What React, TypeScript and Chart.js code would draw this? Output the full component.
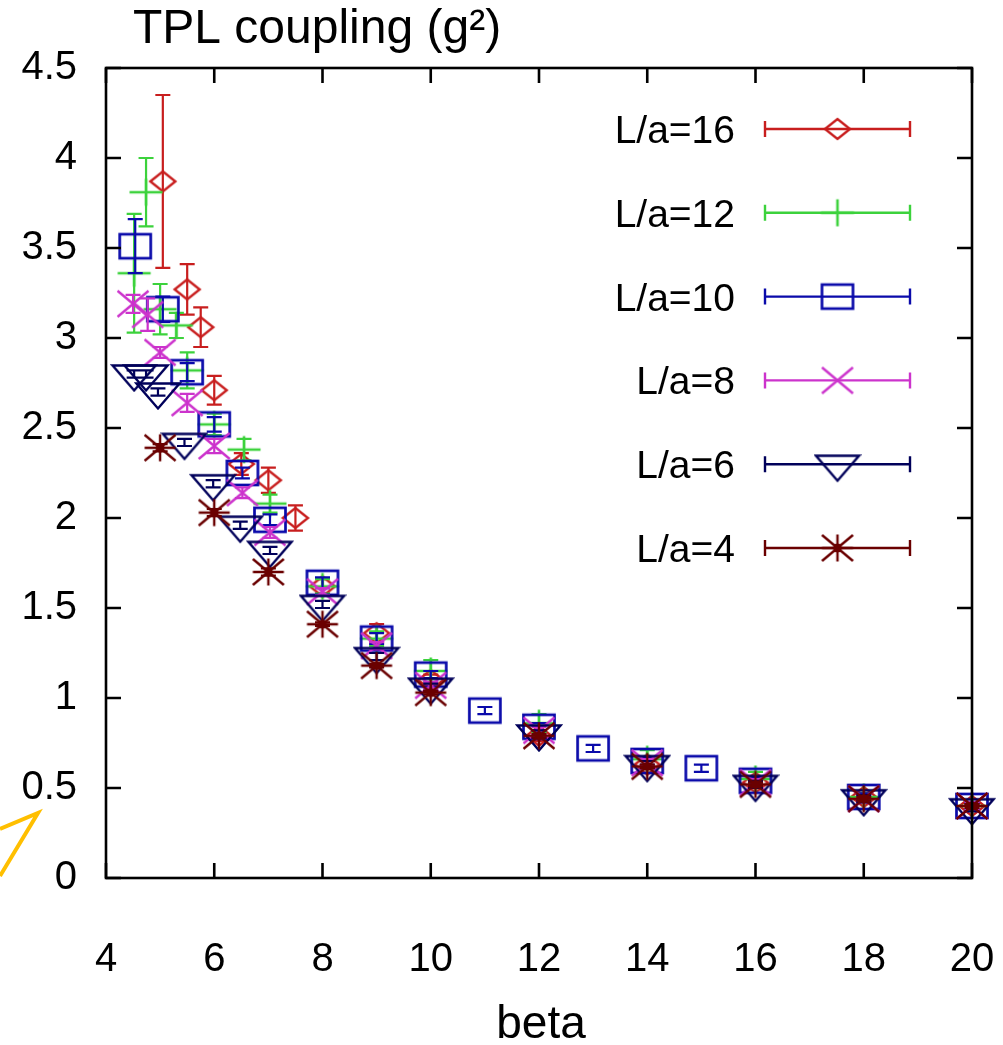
import { useEffect, useRef } from 'react';
import { Chart, registerables } from 'chart.js';

Chart.register(...registerables);

const FONT = '"Liberation Sans", Arial, Helvetica, sans-serif';

const seriesLabels = ['L/a=16', 'L/a=12', 'L/a=10', 'L/a=8', 'L/a=6', 'L/a=4'];
const seriesColors = ['#c81e1e', '#3cd23c', '#0a0aaa', '#cc33cc', '#00005a', '#6a0000'];

// L/a=16
const beta16 = [5.05, 5.5, 5.75, 6.0, 6.5, 7.0, 7.5, 8, 9, 10, 12, 14, 16, 18, 20];
const g16 = [3.87, 3.27, 3.06, 2.71, 2.3, 2.21, 2.0, 1.62, 1.36, 1.1, 0.79, 0.63, 0.53, 0.45, 0.4];
const e16 = [0.48, 0.14, 0.11, 0.08, 0.06, 0.07, 0.07, 0.04, 0.05, 0.03, 0.03, 0.02, 0.02, 0.02, 0.02];

// L/a=12
const beta12 = [4.52, 4.74, 5.0, 5.3, 5.5, 6.0, 6.55, 7.03, 8, 9, 10, 12, 14, 16, 18, 20];
const g12 = [3.36, 3.81, 3.16, 3.07, 2.82, 2.52, 2.38, 2.08, 1.62, 1.33, 1.15, 0.86, 0.66, 0.55, 0.45, 0.4];
const e12 = [0.33, 0.19, 0.14, 0.07, 0.1, 0.06, 0.06, 0.05, 0.04, 0.04, 0.06, 0.05, 0.05, 0.04, 0.02, 0.02];

// L/a=10
const beta10 = [4.54, 5.05, 5.5, 6.0, 6.52, 7.03, 8, 9, 10, 11, 12, 13, 14, 15, 16, 18, 20];
const g10 = [3.51, 3.16, 2.81, 2.52, 2.25, 1.99, 1.64, 1.33, 1.13, 0.93, 0.84, 0.72, 0.65, 0.61, 0.54, 0.45, 0.4];
const e10 = [0.15, 0.07, 0.05, 0.04, 0.03, 0.03, 0.03, 0.03, 0.02, 0.02, 0.02, 0.02, 0.02, 0.02, 0.02, 0.02, 0.02];

// L/a=8
const beta8 = [4.5, 4.77, 5.0, 5.5, 6.0, 6.52, 7.03, 8, 9, 10, 12, 14, 16, 18, 20];
const g8 = [3.19, 3.13, 2.92, 2.64, 2.4, 2.14, 1.92, 1.59, 1.29, 1.07, 0.82, 0.64, 0.53, 0.44, 0.4];
const e8 = [0.05, 0.09, 0.03, 0.05, 0.04, 0.03, 0.03, 0.02, 0.02, 0.02, 0.02, 0.02, 0.02, 0.02, 0.02];

// L/a=6
const beta6 = [4.52, 4.74, 4.96, 5.45, 5.98, 6.48, 7.03, 8, 9, 10, 12, 14, 16, 18, 20];
const g6 = [2.8, 2.8, 2.7, 2.42, 2.19, 1.96, 1.82, 1.52, 1.23, 1.06, 0.8, 0.63, 0.52, 0.44, 0.39];
const e6 = [0.02, 0.02, 0.02, 0.02, 0.02, 0.02, 0.02, 0.02, 0.02, 0.02, 0.02, 0.02, 0.02, 0.02, 0.02];

// L/a=4
const beta4 = [5.0, 6.0, 7.0, 8, 9, 10, 12, 14, 16, 18, 20];
const g4 = [2.39, 2.03, 1.7, 1.41, 1.18, 1.03, 0.79, 0.62, 0.52, 0.44, 0.4];
const e4 = [0.02, 0.02, 0.02, 0.01, 0.01, 0.01, 0.01, 0.01, 0.01, 0.01, 0.01];

const betas = [beta16, beta12, beta10, beta8, beta6, beta4];
const values = [g16, g12, g10, g8, g6, g4];
const errors = [e16, e12, e10, e8, e6, e4];

const xTicks = [4, 6, 8, 10, 12, 14, 16, 18, 20];
const yTicks = [0, 0.5, 1, 1.5, 2, 2.5, 3, 3.5, 4, 4.5];

const titleText = 'TPL coupling (g\u00B2)';
const xTitleText = 'beta';

type Drawer = (ctx: CanvasRenderingContext2D, cx: number, cy: number) => void;

function makeMarker(w: number, h: number, color: string, draw: Drawer): HTMLCanvasElement {
  const c = document.createElement('canvas');
  c.width = w;
  c.height = h;
  const ctx = c.getContext('2d')!;
  ctx.strokeStyle = color;
  ctx.fillStyle = color;
  ctx.lineCap = 'butt';
  draw(ctx, w / 2, h / 2);
  return c;
}

function buildMarkers(): HTMLCanvasElement[] {
  const diamond = makeMarker(30, 26, seriesColors[0], (ctx, cx, cy) => {
    ctx.lineWidth = 2.4;
    ctx.beginPath();
    ctx.moveTo(cx - 12.5, cy);
    ctx.lineTo(cx, cy - 10);
    ctx.lineTo(cx + 12.5, cy);
    ctx.lineTo(cx, cy + 10);
    ctx.closePath();
    ctx.stroke();
  });
  const plus = makeMarker(36, 30, seriesColors[1], (ctx, cx, cy) => {
    ctx.lineWidth = 2.6;
    ctx.beginPath();
    ctx.moveTo(cx - 16.5, cy);
    ctx.lineTo(cx + 16.5, cy);
    ctx.moveTo(cx, cy - 13.5);
    ctx.lineTo(cx, cy + 13.5);
    ctx.stroke();
  });
  const square = makeMarker(36, 30, seriesColors[2], (ctx, cx, cy) => {
    ctx.lineWidth = 2.7;
    ctx.strokeRect(cx - 15.5, cy - 12, 31, 24);
  });
  const cross = makeMarker(36, 30, seriesColors[3], (ctx, cx, cy) => {
    ctx.lineWidth = 2.4;
    ctx.beginPath();
    ctx.moveTo(cx - 15.5, cy - 13);
    ctx.lineTo(cx + 15.5, cy + 13);
    ctx.moveTo(cx - 15.5, cy + 13);
    ctx.lineTo(cx + 15.5, cy - 13);
    ctx.stroke();
  });
  const tri = makeMarker(48, 56, seriesColors[4], (ctx, cx, cy) => {
    ctx.lineWidth = 2.4;
    ctx.beginPath();
    ctx.moveTo(cx - 21.5, cy - 8.5);
    ctx.lineTo(cx + 21.5, cy - 8.5);
    ctx.lineTo(cx, cy + 16.5);
    ctx.closePath();
    ctx.stroke();
  });
  const star = makeMarker(36, 30, seriesColors[5], (ctx, cx, cy) => {
    ctx.lineWidth = 2.4;
    ctx.beginPath();
    ctx.moveTo(cx - 15.5, cy - 13);
    ctx.lineTo(cx + 15.5, cy + 13);
    ctx.moveTo(cx - 15.5, cy + 13);
    ctx.lineTo(cx + 15.5, cy - 13);
    ctx.moveTo(cx - 15.5, cy);
    ctx.lineTo(cx + 15.5, cy);
    ctx.moveTo(cx, cy - 13.5);
    ctx.lineTo(cx, cy + 13.5);
    ctx.stroke();
    ctx.beginPath();
    ctx.arc(cx, cy, 4.5, 0, Math.PI * 2);
    ctx.fill();
  });
  return [diamond, plus, square, cross, tri, star];
}

export default function App() {
  const ref = useRef<HTMLCanvasElement | null>(null);

  useEffect(() => {
    if (!ref.current) return;
    const markers = buildMarkers();

    const errorBars = {
      id: 'errorBars',
      beforeDatasetDraw(chart: any, args: any) {
        const i = args.index;
        const { ctx, scales } = chart;
        const xs = scales.x;
        const ys = scales.y;
        ctx.save();
        ctx.strokeStyle = seriesColors[i];
        ctx.lineWidth = 2.2;
        ctx.beginPath();
        betas[i].forEach((b, j) => {
          const x = xs.getPixelForValue(b);
          const y1 = ys.getPixelForValue(values[i][j] + errors[i][j]);
          const y2 = ys.getPixelForValue(values[i][j] - errors[i][j]);
          ctx.moveTo(x, y1);
          ctx.lineTo(x, y2);
          ctx.moveTo(x - 7.5, y1);
          ctx.lineTo(x + 7.5, y1);
          ctx.moveTo(x - 7.5, y2);
          ctx.lineTo(x + 7.5, y2);
        });
        ctx.stroke();
        ctx.restore();
      },
    };

    const frame = {
      id: 'frame',
      afterDatasetsDraw(chart: any) {
        const { ctx, chartArea: a, scales } = chart;
        const xs = scales.x;
        const ys = scales.y;
        ctx.save();
        ctx.strokeStyle = '#000';
        ctx.lineWidth = 2.6;
        ctx.strokeRect(a.left, a.top, a.right - a.left, a.bottom - a.top);
        ctx.beginPath();
        const tl = 15;
        yTicks.forEach((v) => {
          const y = ys.getPixelForValue(v);
          ctx.moveTo(a.left, y);
          ctx.lineTo(a.left + tl, y);
          ctx.moveTo(a.right, y);
          ctx.lineTo(a.right - tl, y);
        });
        xTicks.forEach((v) => {
          const x = xs.getPixelForValue(v);
          ctx.moveTo(x, a.bottom);
          ctx.lineTo(x, a.bottom - tl);
          ctx.moveTo(x, a.top);
          ctx.lineTo(x, a.top + tl);
        });
        ctx.stroke();

        // legend
        const rowH = 83.8;
        const fs = 39;
        ctx.font = `${fs}px ${FONT}`;
        ctx.textAlign = 'right';
        ctx.textBaseline = 'alphabetic';
        seriesLabels.forEach((lab, k) => {
          const y = a.top + 61 + k * rowH;
          ctx.fillStyle = '#000';
          ctx.fillText(lab, a.right - 237, y + fs * 0.36);
          const x1 = a.right - 207;
          const x2 = a.right - 62;
          ctx.strokeStyle = seriesColors[k];
          ctx.lineWidth = 2.4;
          ctx.beginPath();
          ctx.moveTo(x1, y);
          ctx.lineTo(x2, y);
          ctx.moveTo(x1, y - 8);
          ctx.lineTo(x1, y + 8);
          ctx.moveTo(x2, y - 8);
          ctx.lineTo(x2, y + 8);
          ctx.stroke();
          const m = markers[k];
          ctx.drawImage(m, (x1 + x2) / 2 - m.width / 2, y - m.height / 2);
        });

        // titles
        ctx.fillStyle = '#000';
        ctx.textAlign = 'left';
        ctx.font = `48px ${FONT}`;
        ctx.fillText(titleText, 133, 43);
        ctx.textAlign = 'center';
        ctx.font = `46px ${FONT}`;
        ctx.fillText(xTitleText, (a.left + a.right) / 2 + 2, 1038);

        // yellow annotation stroke
        ctx.strokeStyle = '#ffbf00';
        ctx.lineWidth = 4;
        ctx.lineJoin = 'miter';
        ctx.beginPath();
        ctx.moveTo(0, 829);
        ctx.lineTo(38, 813);
        ctx.lineTo(0, 876);
        ctx.stroke();
        ctx.restore();
      },
    };

    const datasets = seriesLabels.map((lab, i) => ({
      label: lab,
      data: betas[i].map((b, j) => ({ x: b, y: values[i][j] })),
      pointStyle: markers[i] as any,
      pointRadius: 16,
      pointHoverRadius: 16,
      borderColor: seriesColors[i],
      backgroundColor: seriesColors[i],
      showLine: false,
      clip: false as any,
      order: seriesLabels.length - 1 - i,
    }));

    const chart = new Chart(ref.current, {
      type: 'scatter',
      data: { datasets },
      options: {
        responsive: false,
        devicePixelRatio: 1,
        animation: false,
        events: [],
        layout: { padding: { left: 0, right: 31, top: 68, bottom: 0 } },
        plugins: { legend: { display: false }, tooltip: { enabled: false }, title: { display: false } },
        scales: {
          x: {
            type: 'linear',
            position: 'bottom',
            min: 4,
            max: 20,
            afterBuildTicks: (s: any) => {
              s.ticks = xTicks.map((v) => ({ value: v }));
            },
            afterFit: (s: any) => {
              s.height = 167;
              s.paddingLeft = 0;
              s.paddingRight = 0;
            },
            grid: { display: false, drawTicks: false },
            border: { display: false },
            ticks: {
              color: '#000',
              font: { family: FONT, size: 40 },
              padding: 58,
              maxRotation: 0,
              autoSkip: false,
              callback: (v: any) => String(v),
            },
          },
          y: {
            type: 'linear',
            min: 0,
            max: 4.5,
            afterBuildTicks: (s: any) => {
              s.ticks = yTicks.map((v) => ({ value: v }));
            },
            afterFit: (s: any) => {
              s.width = 106;
              s.paddingTop = 0;
              s.paddingBottom = 0;
            },
            grid: { display: false, drawTicks: false },
            border: { display: false },
            ticks: {
              color: '#000',
              font: { family: FONT, size: 40 },
              padding: 29,
              autoSkip: false,
              callback: (v: any) => String(v),
            },
          },
        },
      },
      plugins: [errorBars, frame],
    });

    return () => {
      chart.destroy();
    };
  }, []);

  return (
    <div style={{ position: 'absolute', left: 0, top: 0, width: 1003, height: 1045, background: '#fff' }}>
      <canvas ref={ref} width={1003} height={1045} style={{ display: 'block' }} />
    </div>
  );
}
